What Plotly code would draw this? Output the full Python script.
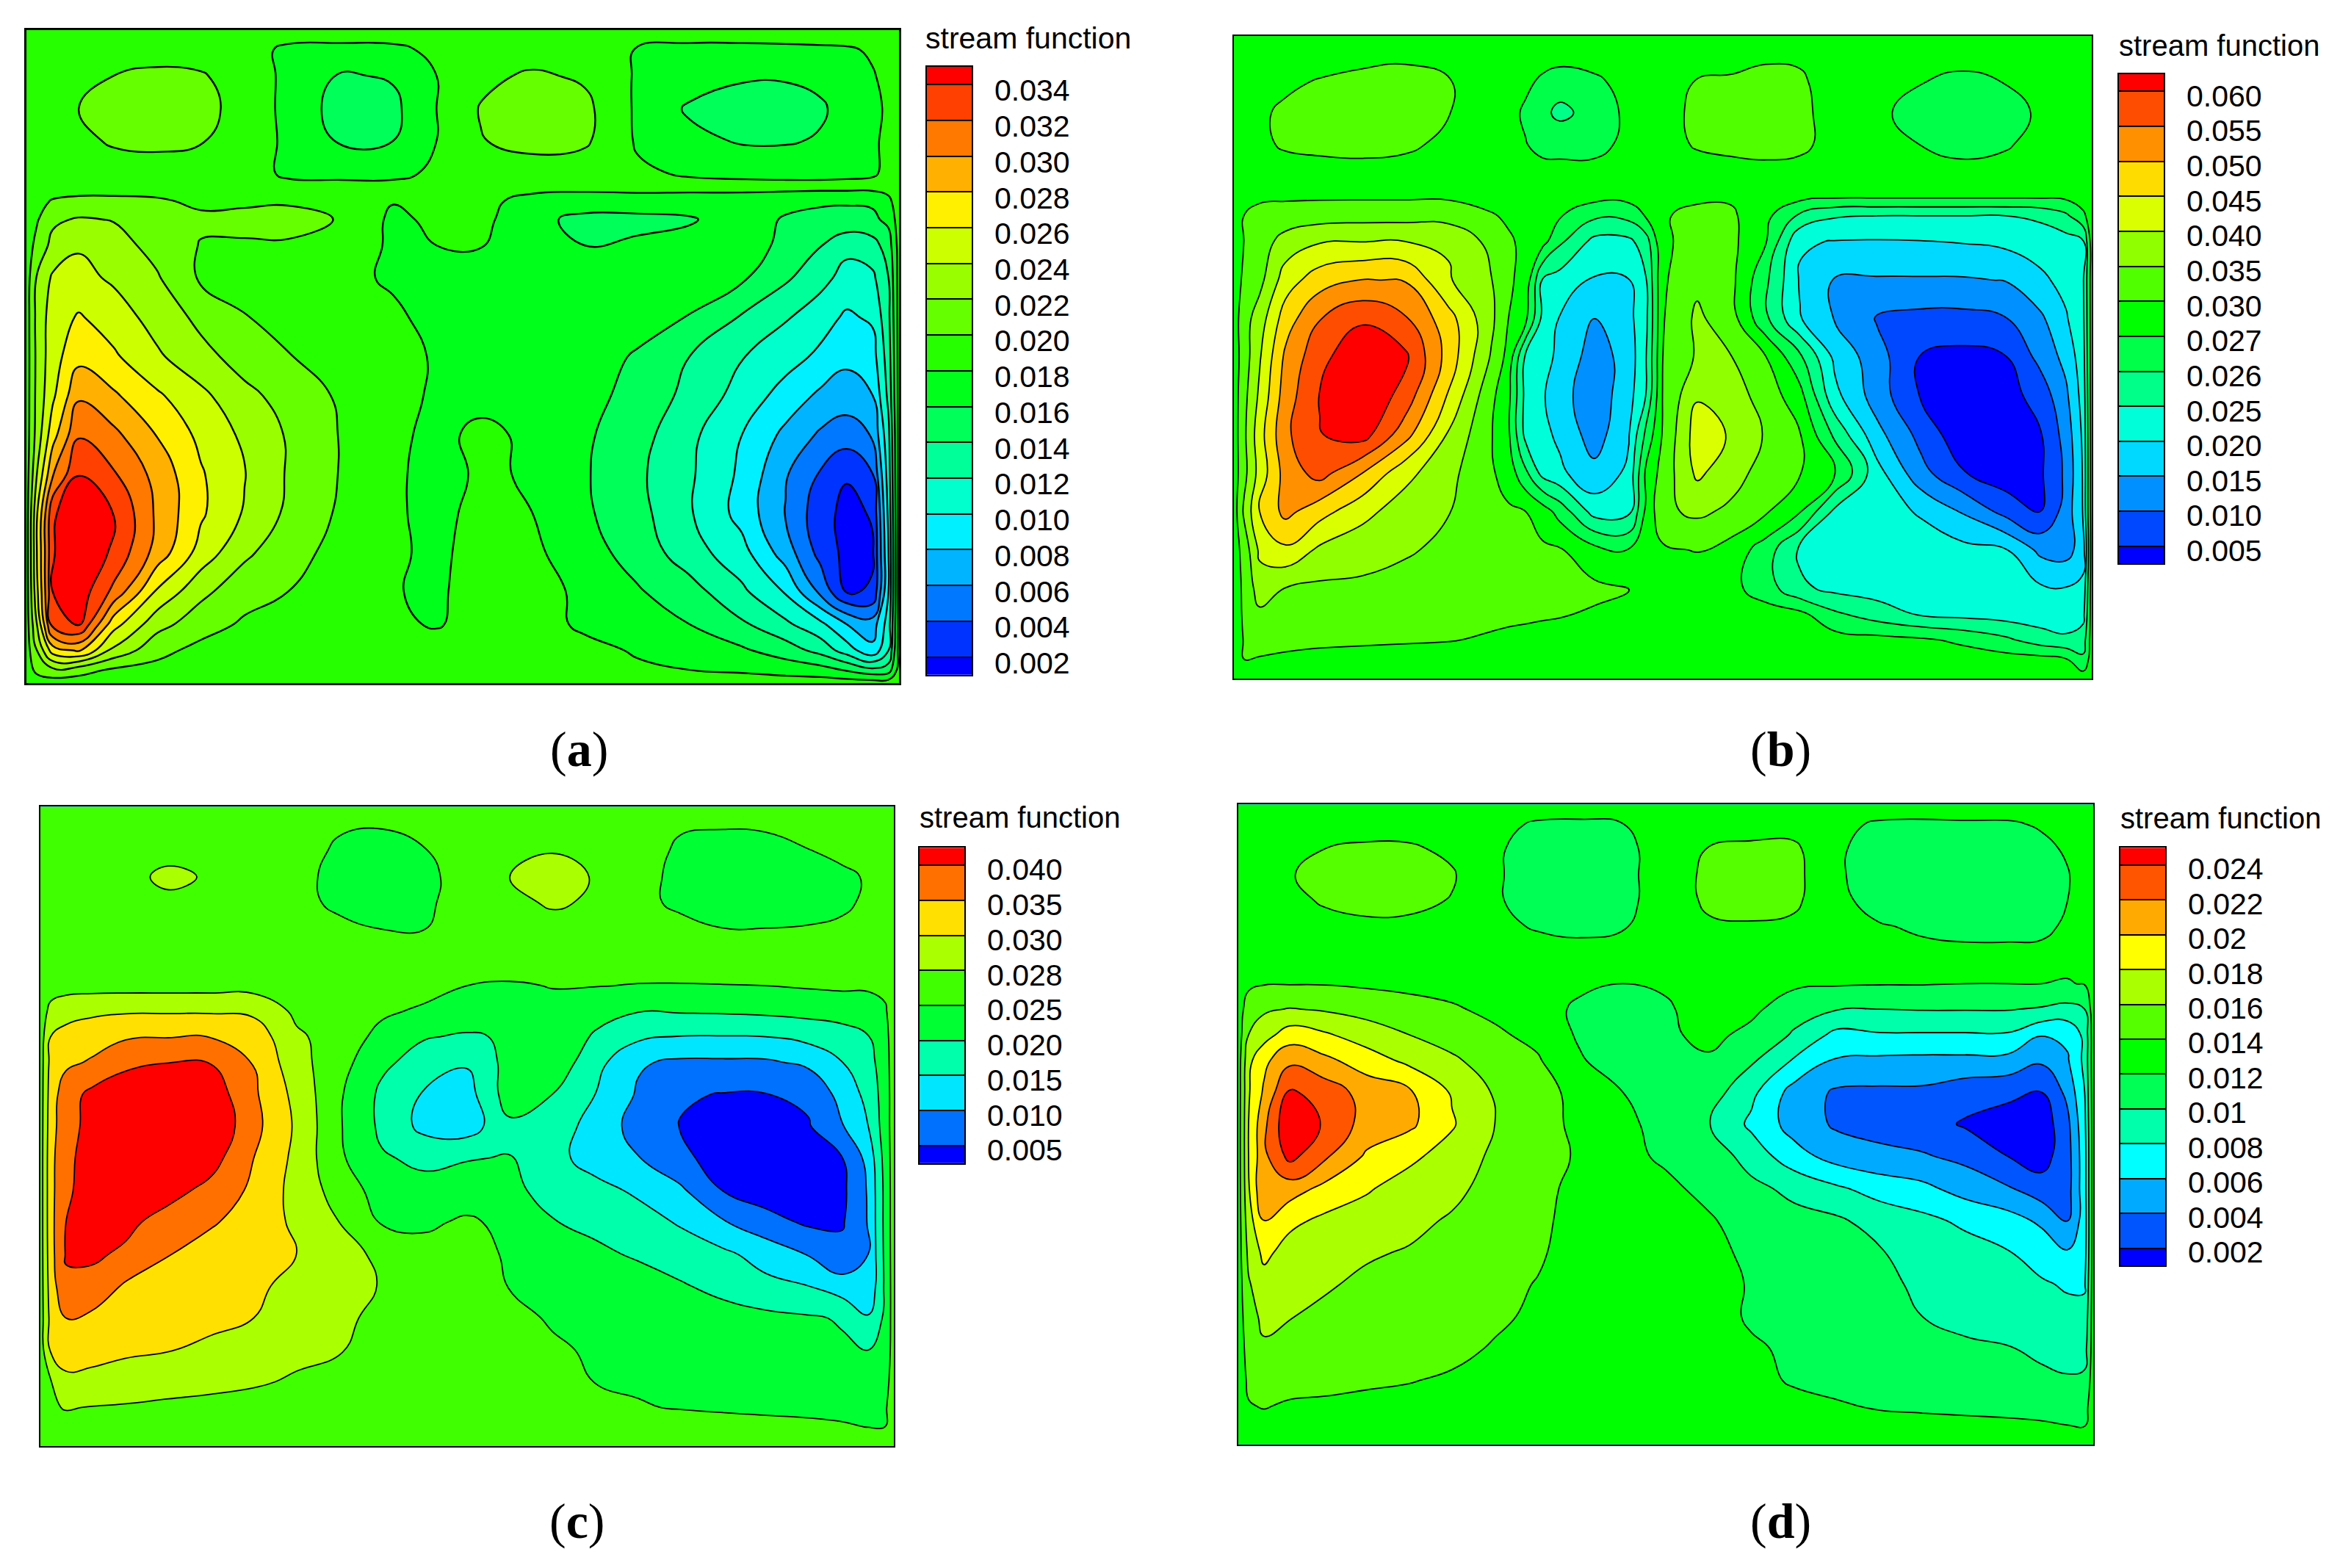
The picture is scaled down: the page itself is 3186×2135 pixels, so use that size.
import numpy as np
import plotly.graph_objects as go

# ---- panel (a) stream function, in units of 1e-4 ----
u_a = [0,.012,.03,.06,.10,.15,.20,.25,.30,.36,.42,.47,.52,.58,.64,.70,.76,.82,.87,.91,.94,.97,.988,1]
v_a = [0,.03,.07,.12,.17,.22,.241,.262,.29,.33,.38,.44,.50,.56,.62,.68,.74,.80,.86,.91,.95,.98,1]
psi_a = [
[190]*24,
[190,190,190,190,190,190,190,188,176,175,176,184,190,190,190,179,175,175,176,177,178,182,188,190],
[190,190,190,192,200,205,202,190,176,158,162,180,195,203,197,178,172,162,162,166,176,179,184,190],
[190,190,192,200,206,208,205,194,174,152,155,180,201,208,205,177,157,153,152,157,168,177,182,190],
[190,190,191,196,202,204,201,192,176,158,160,180,199,206,203,178,166,158,158,162,175,178,183,190],
[190,190,191,192,192,192,191,190,176,175,176,183,190,191,189,183,178,176,175,175,176,178,184,190],
[190,192,194,195,195,194,192,191,187,186,185,186,187,186,185,186,186,186,186,186,186,186,186,190],
[190,196,201,203,203,202,197,197,198,192,181,186,186,173,170,171,170,170,166,162,162,163,176,190],
[190,198,216,222,219,210,203,205,206,199,176,184,186,165,155,155,158,170,158,156,154,156,165,190],
[190,206,226,238,228,213,199,198,198,192,177,180,181,170,160,163,167,168,156,141,126,132,150,188],
[190,222,243,246,237,222,197,192,190,186,177,172,170,170,170,172,172,163,143,127,112,116,140,188],
[190,226,250,262,250,232,215,201,193,187,184,173,172,171,170,168,159,138,122,108,97,103,135,188],
[190,225,252,274,263,243,226,212,201,190,187,178,171,170,169,158,140,121,108,96,85,92,130,188],
[190,226,256,297,283,263,245,225,213,197,187,177,172,171,168,152,135,112,92,76,70,80,125,188],
[190,228,272,318,305,279,255,236,218,199,186,173,186,175,163,148,125,100,75,57,50,62,115,188],
[190,240,298,339,322,293,262,241,218,199,184,172,183,178,162,144,123,96,62,38,22,40,110,188],
[190,258,336,362,341,296,263,238,216,197,183,174,186,180,163,147,122,93,59,28,14,22,105,188],
[190,260,338,365,336,292,252,224,208,193,183,176,187,184,168,152,129,107,70,33,14,18,100,188],
[190,255,340,352,315,257,225,208,200,192,181,177,188,187,176,162,148,124,98,55,18,22,100,188],
[190,240,328,342,268,227,209,197,193,190,184,178,189,189,176,168,160,143,124,105,80,70,110,188],
[190,220,270,283,235,206,194,191,190,190,190,190,190,190,186,178,172,163,150,133,110,85,120,188],
[190,205,215,208,197,194,191,191,190,190,190,190,190,190,190,183,180,177,172,168,158,145,150,188],
[190]*24,
]
levels_a = [20,40,60,80,100,120,140,160,180,200,220,240,260,280,300,320,340]
labels_a = ["0.002","0.004","0.006","0.008","0.010","0.012","0.014","0.016","0.018","0.020","0.022","0.024","0.026","0.028","0.030","0.032","0.034"]
colors_a = ["#0000FF","#0033FF","#0078FF","#00B4FF","#00F0FF","#00FFCC","#00FF99","#00FF59","#00FF1A","#26FF00","#66FF00","#99FF00","#CCFF00","#FFF000","#FFB000","#FF7800","#FF4000","#FF0000"]

# ---- panel (b) ----
u_b = [0,.012,.03,.06,.10,.15,.20,.25,.30,.32,.34,.36,.38,.42,.46,.48,.50,.54,.58,.62,.66,.70,.75,.80,.85,.90,.94,.97,.99,1]
v_b = [0,.03,.07,.12,.17,.21,.25,.28,.32,.38,.44,.50,.56,.62,.68,.74,.80,.86,.90,.94,.97,1]
psi_b = [
[285]*30,
[285,285,285,286,290,296,298,290,285,285,285,285,285,285,285,285,285,287,293,298,296,288,285,285,285,285,285,285,285,285],
[285,285,286,296,302,306,306,302,290,284,278,268,264,268,282,285,285,302,304,306,306,288,282,272,267,272,282,285,285,285],
[285,285,297,306,308,310,309,301,290,282,268,262,258,263,278,285,290,310,310,312,310,290,278,265,263,264,277,285,285,285],
[285,285,296,304,306,307,305,296,288,284,272,266,266,266,280,284,288,305,308,309,308,292,283,270,266,269,281,285,285,285],
[285,285,287,292,295,296,294,290,285,285,284,282,280,281,285,285,285,287,294,296,293,286,285,283,280,281,284,285,285,285],
[285,286,296,296,296,296,296,296,290,287,285,282,280,280,280,282,285,296,296,285,280,275,275,275,275,275,275,277,285,285],
[285,301,312,320,328,332,332,330,304,296,285,278,272,262,263,272,298,310,308,278,258,251,250,250,250,250,252,258,268,285],
[285,301,325,370,396,399,400,395,335,306,294,280,262,235,238,255,296,315,312,272,205,198,196,198,203,212,222,230,245,285],
[285,310,335,425,478,502,497,405,352,308,290,245,228,195,198,245,296,338,312,262,195,147,145,145,145,152,190,215,245,285],
[285,330,375,475,548,592,555,470,362,300,278,235,197,150,185,235,298,360,320,262,203,148,95,85,85,98,140,195,240,285],
[285,325,395,510,585,640,610,480,345,290,240,215,190,125,170,245,300,356,351,302,262,190,120,48,35,48,115,165,230,285],
[285,335,410,525,602,645,580,445,312,278,235,205,170,118,180,250,303,395,372,330,280,215,125,48,20,30,70,140,220,285],
[285,340,430,540,598,622,520,395,303,275,235,212,190,125,195,262,305,425,395,345,302,258,165,85,15,20,46,120,210,285],
[285,335,420,520,570,500,415,365,306,288,262,232,210,165,210,275,320,410,370,330,302,275,218,118,53,20,42,110,205,285],
[285,360,450,515,470,415,375,352,315,306,300,285,266,230,235,275,340,360,340,306,272,240,222,195,145,82,50,120,205,285],
[285,320,410,440,390,370,356,338,322,316,312,308,305,280,272,280,295,303,288,265,240,232,228,225,215,203,138,130,175,285],
[285,310,375,348,340,340,330,322,313,310,308,307,306,310,303,289,285,285,278,265,252,238,228,222,218,212,208,203,215,285],
[285,308,340,325,320,318,315,312,310,308,307,305,303,297,290,287,285,285,285,283,278,262,255,245,235,228,222,220,235,285],
[285,303,310,308,306,305,304,302,297,295,293,291,289,285,285,285,285,285,285,285,285,283,280,275,268,262,255,252,255,285],
[285,300,299,297,295,293,290,287,285,285,285,285,285,285,285,285,285,285,285,285,285,285,285,285,285,282,280,272,262,285],
[285]*30,
]
levels_b = [50,100,150,200,250,260,270,300,350,400,450,500,550,600]
labels_b = ["0.005","0.010","0.015","0.020","0.025","0.026","0.027","0.030","0.035","0.040","0.045","0.050","0.055","0.060"]
colors_b = ["#0000FF","#0048FF","#0090FF","#00D9FF","#00FFD9","#00FF88","#00FF48","#00FF00","#50FF00","#90FF00","#D9FF00","#FFDC00","#FF9000","#FF4D00","#FF0000"]

# ---- panel (c) ----
u_c = [0,.012,.03,.06,.10,.15,.20,.25,.30,.35,.40,.45,.50,.55,.60,.65,.70,.75,.80,.85,.90,.94,.97,.99,1]
v_c = [0,.03,.07,.11,.15,.19,.24,.28,.32,.36,.40,.45,.50,.55,.60,.65,.70,.75,.80,.85,.90,.94,.97,1]
psi_c = [
[265]*25,
[265,265,265,265,265,265,265,265,263,252,251,256,265,265,265,265,263,252,251,252,254,258,263,265,265],
[265,265,265,265,268,272,270,265,258,245,238,248,262,272,279,275,260,244,240,240,249,255,260,265,265],
[265,265,265,265,272,284,277,265,256,240,235,242,258,280,288,278,258,240,236,235,238,243,252,265,265],
[265,265,265,265,268,274,270,265,257,242,238,244,259,274,282,277,258,240,236,235,238,243,254,265,265],
[265,265,265,265,265,265,265,265,263,255,249,249,258,265,272,268,263,258,250,250,251,254,260,265,265],
[265,266,267,267,267,267,267,266,265,265,265,265,265,265,265,265,263,262,262,261,260,260,260,262,265],
[265,268,269,269,269,269,269,269,268,264,262,261,250,245,251,251,248,248,249,250,253,255,254,256,265],
[265,285,292,296,298,298,298,296,274,265,255,242,225,220,238,215,202,204,206,210,215,220,228,245,265],
[265,300,318,330,345,348,348,330,283,268,235,203,195,205,232,195,160,148,148,150,165,180,198,235,265],
[265,315,340,355,385,399,398,348,287,262,210,180,155,218,235,168,105,92,92,93,110,150,180,230,265],
[265,325,378,412,440,450,430,358,294,254,190,145,130,225,200,150,95,55,48,49,60,118,165,225,265],
[265,330,382,415,455,465,445,365,297,253,190,135,125,190,185,125,85,48,32,28,46,98,150,225,265],
[265,335,390,418,450,440,420,350,295,255,205,190,198,202,165,130,102,62,28,18,25,50,115,220,265],
[265,335,393,418,432,418,385,340,293,268,228,215,218,210,185,165,142,108,48,25,18,40,105,215,265],
[265,335,400,420,412,380,355,330,296,280,246,240,255,235,202,190,170,145,104,68,42,46,103,215,265],
[265,332,404,408,392,352,330,312,300,287,274,262,266,241,222,208,195,175,160,130,97,62,100,213,265],
[265,325,392,385,343,325,315,305,297,285,279,268,266,248,235,225,218,205,185,163,150,122,105,210,265],
[265,315,352,340,318,310,312,300,290,284,273,266,265,258,245,238,232,227,220,212,205,196,155,210,265],
[265,305,315,312,307,302,296,288,284,281,272,267,265,265,254,244,240,236,230,222,214,206,199,215,265],
[265,278,297,296,292,288,285,282,277,272,267,265,265,265,262,249,244,241,238,235,232,230,228,232,265],
[265,277,281,279,277,274,272,270,268,265,265,265,265,265,265,262,252,247,245,243,242,240,240,245,265],
[265,272,272,268,266,265,265,265,265,265,265,265,265,265,265,265,265,265,258,256,254,252,249,250,265],
[265]*25,
]
levels_c = [50,100,150,200,250,280,300,350,400]
labels_c = ["0.005","0.010","0.015","0.020","0.025","0.028","0.030","0.035","0.040"]
colors_c = ["#0000FF","#0070FF","#00E6FF","#00FFAA","#00FF33","#40FF00","#AAFF00","#FFE000","#FF7000","#FF0000"]

# ---- panel (d) ----
u_d = [0,.012,.03,.06,.10,.15,.20,.25,.30,.35,.40,.45,.50,.55,.60,.65,.70,.75,.80,.85,.90,.94,.97,.99,1]
v_d = [0,.03,.07,.11,.15,.19,.24,.28,.32,.36,.40,.45,.50,.55,.60,.65,.70,.75,.80,.85,.90,.94,.97,1]
psi_d = [
[130]*25,
[130,130,130,130,130,130,131,128,125,118,117,120,128,130,134,132,124,118,117,118,118,122,127,130,130],
[130,130,130,133,140,144,143,136,122,114,113,116,127,141,143,144,122,114,112,112,113,116,122,128,130],
[130,130,131,139,145,147,146,142,122,113,112,116,127,145,146,146,122,113,111,111,112,114,119,127,130],
[130,130,131,135,142,145,145,139,122,113,112,116,127,144,144,144,124,114,112,112,113,115,120,127,130],
[130,130,130,131,134,137,136,133,125,118,116,119,127,137,139,136,126,121,118,116,116,117,122,127,130],
[130,133,134,134,134,134,134,133,131,130,127,125,126,128,128,127,125,124,124,124,124,124,124,125,130],
[130,136,139,139,139,137,136,134,131,130,125,120,122,127,128,124,122,121,121,120,120,120,119,121,130],
[130,150,157,161,158,153,146,142,136,131,115,112,118,127,125,107,101,100,101,101,101,98,94,100,130],
[130,160,172,190,183,170,160,152,143,135,117,112,116,126,114,98,74,78,78,78,78,61,64,85,130],
[130,175,195,215,205,190,175,163,151,142,122,108,112,117,103,78,58,56,55,55,54,43,58,85,130],
[130,178,203,243,232,212,203,178,158,146,135,120,116,110,85,52,37,36,36,28,24,20,45,80,130],
[130,180,215,258,238,212,204,182,160,148,135,122,117,101,76,52,37,33,28,18,12,8,35,75,130],
[130,180,215,246,224,197,184,172,156,150,137,125,117,112,92,68,52,45,42,35,20,12,32,72,130],
[130,178,220,210,195,182,172,167,150,147,133,128,124,115,105,95,83,72,65,52,42,28,32,72,130],
[130,172,200,185,176,172,167,157,145,146,130,128,128,122,112,106,103,92,85,76,68,56,38,70,130],
[130,165,185,172,165,163,158,150,143,143,130,130,131,124,117,110,106,101,96,88,81,72,62,72,130],
[130,158,172,168,163,155,149,144,146,139,133,131,131,130,118,112,108,104,97,92,87,82,78,78,130],
[130,152,165,161,155,148,144,143,144,136,132,130,130,130,117,113,109,105,100,95,91,88,85,85,130],
[130,147,157,152,148,145,143,146,138,134,131,130,130,130,123,116,112,109,106,103,101,96,92,92,130],
[130,143,147,146,145,143,141,137,134,132,130,130,130,130,128,117,114,112,110,108,106,104,102,104,130],
[130,139,141,138,137,135,133,132,131,130,130,130,130,130,130,128,122,118,117,116,115,113,112,114,130],
[130,135,135,132,130,130,130,130,130,130,130,130,130,130,130,130,130,127,125,124,123,122,120,119,130],
[130]*25,
]
levels_d = [20,40,60,80,100,120,140,160,180,200,220,240]
labels_d = ["0.002","0.004","0.006","0.008","0.01","0.012","0.014","0.016","0.018","0.02","0.022","0.024"]
colors_d = ["#0000FF","#0055FF","#00AAFF","#00FFFF","#00FFAA","#00FF55","#00FF00","#55FF00","#AAFF00","#FFFF00","#FFAA00","#FF5500","#FF0000"]

TITLE = "stream function"
W, H = 3186, 2135
FONT = "Liberation Sans"

panels = [
    dict(tag="a", u=u_a, v=v_a, z=psi_a, lv=levels_a, lb=labels_a, col=colors_a, shift=8,
         box=(36,1224,41,933), leg=(1262,1323,91,922), title=(1258,52), cap=(788,1023), lw=2.4, fr=3, fs=41),
    dict(tag="b", u=u_b, v=v_b, z=psi_b, lv=levels_b, lb=labels_b, col=colors_b, shift=6,
         box=(1680,2848,49,927), leg=(2885,2946,101,770), title=(2883,62), cap=(2424,1023), lw=1.8, fr=2, fs=40),
    dict(tag="c", u=u_c, v=v_c, z=psi_c, lv=levels_c, lb=labels_c, col=colors_c, shift=6,
         box=(55,1217,1102,1975), leg=(1252,1313,1158,1589), title=(1250,1117), cap=(786,2078), lw=1.8, fr=2, fs=40),
    dict(tag="d", u=u_d, v=v_d, z=psi_d, lv=levels_d, lb=labels_d, col=colors_d, shift=5,
         box=(1686,2850,1099,1973), leg=(2887,2948,1158,1729), title=(2885,1118), cap=(2424,2078), lw=1.8, fr=2, fs=40),
]

def step_scale(cols):
    n = len(cols)
    out = []
    for i, c in enumerate(cols):
        out += [[i / n, c], [(i + 1) / n, c]]
    return out

fig = go.Figure()
layout = {}
ann = []
for i, p in enumerate(panels):
    lv = p["lv"]
    n = len(lv)
    idx = list(range(n))
    x0, x1, y0, y1 = p["box"]
    ax, ay = 2 * i + 1, 2 * i + 2          # panel axes, legend axes
    # level index space: one unit per legend step, so unequal legend steps become equal contour steps
    xp = [0] + lv + [2 * lv[-1] - lv[-2]]
    fp = [-1] + idx + [n]
    zi = np.interp(np.array(p["z"], float), xp, fp)
    fig.add_trace(go.Contour(
        x=p["u"], y=p["v"], z=zi, xaxis=f"x{ax}", yaxis=f"y{ax}",
        autocontour=False, contours=dict(start=0, end=n - 1, size=1, coloring="fill"),
        line=dict(color="black", width=p["lw"], smoothing=1.3),
        colorscale=step_scale(p["col"]), zmin=-1, zmax=n,
        showscale=False, hoverinfo="skip"))
    line = dict(showline=True, mirror=True, linecolor="black", linewidth=p["fr"],
                showgrid=False, zeroline=False, ticks="", showticklabels=False)
    layout[f"xaxis{ax}"] = dict(domain=[x0 / W, x1 / W], range=[0, 1], anchor=f"y{ax}", **line)
    layout[f"yaxis{ax}"] = dict(domain=[1 - y1 / H, 1 - y0 / H], range=[1, 0], anchor=f"x{ax}", **line)

    lx0, lx1, ly0, ly1 = p["leg"]
    edges = [-0.5] + idx + [n - 0.5]
    fig.add_trace(go.Heatmap(
        x=[0, 1], y=edges, z=[[k + 0.5] for k in range(n + 1)], xaxis=f"x{ay}", yaxis=f"y{ay}",
        colorscale=step_scale(p["col"]), zmin=0, zmax=n + 1, showscale=False, hoverinfo="skip"))
    layout[f"xaxis{ay}"] = dict(domain=[lx0 / W, lx1 / W], range=[0, 1], anchor=f"y{ay}", showline=True, mirror=True,
                                linecolor="black", linewidth=1.5, showgrid=False, zeroline=False, ticks="", showticklabels=False)
    layout[f"yaxis{ay}"] = dict(domain=[1 - ly1 / H, 1 - ly0 / H], range=[-0.5, n - 0.5], anchor=f"x{ay}", side="right",
                                showline=True, mirror=True, linecolor="black", linewidth=1.5, showgrid=False, zeroline=False,
                                tickmode="array", tickvals=idx, ticktext=p["lb"], ticks="inside", ticklen=lx1 - lx0,
                                tickwidth=1.5, tickcolor="black", ticklabelstandoff=21, ticklabelshift=p["shift"],
                                tickfont=dict(family=FONT, size=41, color="black"))
    ann.append(dict(x=p["title"][0] / W, y=1 - p["title"][1] / H, xref="paper", yref="paper", text=TITLE,
                    xanchor="left", yanchor="middle", showarrow=False, font=dict(family=FONT, size=p["fs"], color="black")))
    ann.append(dict(x=p["cap"][0] / W, y=1 - p["cap"][1] / H, xref="paper", yref="paper", text=f"(<b>{p['tag']}</b>)",
                    xanchor="center", yanchor="middle", showarrow=False, font=dict(family="Liberation Serif", size=68, color="black")))

fig.update_layout(width=W, height=H, autosize=False, margin=dict(l=0, r=0, t=0, b=0),
                  paper_bgcolor="white", plot_bgcolor="white", showlegend=False, annotations=ann, **layout)
fig.write_html("out.html", post_script="document.body.style.margin='0';",
               config=dict(displayModeBar=False))
